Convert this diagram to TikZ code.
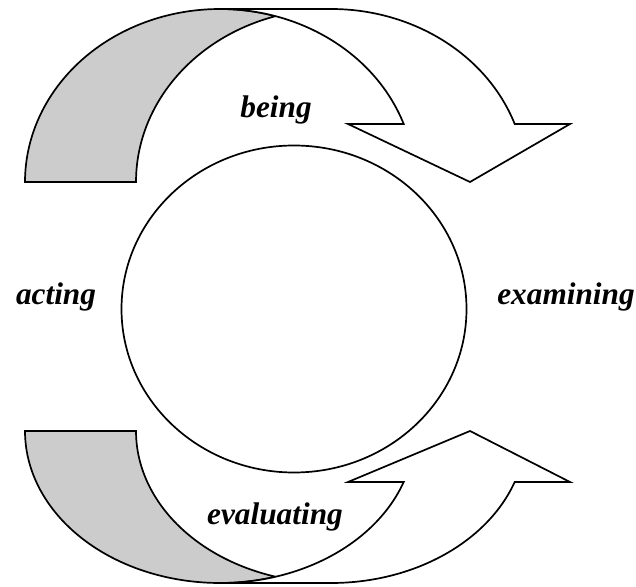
\documentclass[tikz,border=0pt]{standalone}
\usepackage{fontspec}
\setmainfont{Liberation Serif}
\definecolor{backface}{RGB}{204,204,204}
\tikzset{
  band/.style={draw=black, line width=1.7pt, line join=miter},
  backband/.style={band, fill=backface},
  frontband/.style={band, fill=white},
  cyclebox/.style={draw=black, line width=1.7pt, fill=white},
  phase/.style={inner sep=0pt, anchor=base, font=\fontsize{31.3}{36}\selectfont\bfseries\itshape}
}
\begin{document}
\begin{tikzpicture}[x=1pt, y=1pt]
\useasboundingbox (0,0) rectangle (636,586);

% upper curved arrow: shaded back face
\path[backband] (25,404)
  arc[start angle=180, end angle=73.46, x radius=195pt, y radius=173pt]
  arc[start angle=106.54, end angle=180, x radius=195pt, y radius=173pt]
  -- cycle;
% upper curved arrow: front face with its head
\path[frontband] (220,577) -- (331,577)
  arc[start angle=90, end angle=19.59, x radius=195pt, y radius=173pt]
  -- (570,462) -- (470,404) -- (348,462) -- (403.7,462)
  arc[start angle=19.59, end angle=90, x radius=195pt, y radius=173pt]
  -- cycle;

% lower curved arrow: shaded back face
\path[backband] (25,155)
  arc[start angle=180, end angle=286.54, x radius=195pt, y radius=152pt]
  arc[start angle=253.46, end angle=180, x radius=195pt, y radius=152pt]
  -- cycle;
% lower curved arrow: front face with its head
\path[frontband] (220,3) -- (331,3)
  arc[start angle=270, end angle=340.41, x radius=195pt, y radius=152pt]
  -- (570,104) -- (470,155) -- (348,104) -- (403.7,104)
  arc[start angle=340.41, end angle=270, x radius=195pt, y radius=152pt]
  -- cycle;

% central circle
\path[cyclebox] (294,277) ellipse [x radius=172.5pt, y radius=163.5pt];

% phase labels
\node[phase] (being) at (276,468) {being};
\node[phase] (acting) at (56,281.3) {acting};
\node[phase] (examining) at (566,281.3) {examining};
\node[phase] (evaluating) at (275,62) {evaluating};
\end{tikzpicture}
\end{document}
